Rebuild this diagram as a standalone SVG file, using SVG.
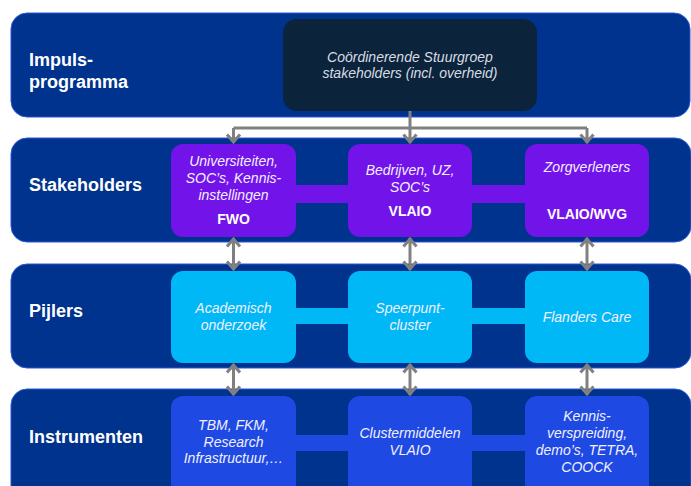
<svg xmlns="http://www.w3.org/2000/svg" width="691" height="486" viewBox="0 0 691 486">
  <defs>
    <style>
      .band { fill: #00338D; stroke: #2a57d6; stroke-width: 1; }
      .lbl { font-family: "Liberation Sans", Arial, sans-serif; font-weight: bold; font-size: 18px; fill: #ffffff; }
      .it { font-family: "Liberation Sans", Arial, sans-serif; font-style: italic; font-size: 14px; fill: #f2f0ff; text-anchor: middle; }
      .bd { font-family: "Liberation Sans", Arial, sans-serif; font-weight: bold; font-size: 14px; fill: #ffffff; text-anchor: middle; }
      .dk { fill: #0C233C; }
      .pu { fill: #7213EA; }
      .cy { fill: #00B8F5; }
      .co { fill: #1E49E2; }
      .conn { stroke: #808080; stroke-width: 3; fill: none; }
    </style>
    <marker id="ah" viewBox="0 0 14 16" refX="10.5" refY="8" markerWidth="14" markerHeight="16" markerUnits="userSpaceOnUse" orient="auto-start-reverse">
      <path d="M2,1.5 L9.5,8 L2,14.5" fill="none" stroke="#808080" stroke-width="3"/>
    </marker>
  </defs>

  <rect width="691" height="486" fill="#ffffff"/>

  <!-- bands -->
  <g id="band-impuls">
    <rect class="band" x="11" y="13" width="679" height="104" rx="16"/>
    <text class="lbl" x="29" y="66">Impuls-</text>
    <text class="lbl" x="29" y="88">programma</text>
  </g>
  <g id="band-stakeholders">
    <rect class="band" x="11" y="138" width="680" height="104" rx="16"/>
    <text class="lbl" x="29" y="191">Stakeholders</text>
  </g>
  <g id="band-pijlers">
    <rect class="band" x="11" y="264" width="680" height="104" rx="16"/>
    <text class="lbl" x="29" y="317">Pijlers</text>
  </g>
  <g id="band-instrumenten">
    <rect class="band" x="11" y="389" width="680" height="120" rx="16"/>
    <text class="lbl" x="29" y="443">Instrumenten</text>
  </g>

  <!-- horizontal bars connecting row boxes -->
  <g id="row-bars">
    <rect class="pu" x="290" y="185" width="240" height="18"/>
    <rect class="cy" x="290" y="308" width="240" height="16"/>
    <rect class="co" x="290" y="435" width="240" height="16"/>
  </g>

  <g id="stuurgroep">
    <rect class="dk" x="283" y="19" width="254" height="92" rx="14"/>
    <text class="it" x="410" y="62" style="fill:#d8dde4">Coördinerende Stuurgroep</text>
    <text class="it" x="410" y="78" style="fill:#d8dde4">stakeholders (incl. overheid)</text>
  </g>

  <g id="universiteiten">
    <rect class="pu" x="171" y="144" width="125" height="93" rx="12"/>
    <text class="it" x="233.5" y="166">Universiteiten,</text>
    <text class="it" x="233.5" y="183">SOC’s, Kennis-</text>
    <text class="it" x="233.5" y="200">instellingen</text>
    <text class="bd" x="233.5" y="224">FWO</text>
  </g>
  <g id="bedrijven">
    <rect class="pu" x="348" y="144" width="124" height="93" rx="12"/>
    <text class="it" x="410" y="175">Bedrijven, UZ,</text>
    <text class="it" x="410" y="192">SOC’s</text>
    <text class="bd" x="410" y="216">VLAIO</text>
  </g>
  <g id="zorgverleners">
    <rect class="pu" x="525" y="144" width="124" height="93" rx="12"/>
    <text class="it" x="587" y="172">Zorgverleners</text>
    <text class="bd" x="587" y="219">VLAIO/WVG</text>
  </g>

  <g id="academisch">
    <rect class="cy" x="171" y="271" width="125" height="92" rx="12"/>
    <text class="it" x="233.5" y="313">Academisch</text>
    <text class="it" x="233.5" y="330">onderzoek</text>
  </g>
  <g id="speerpunt">
    <rect class="cy" x="348" y="271" width="124" height="92" rx="12"/>
    <text class="it" x="410" y="313">Speerpunt-</text>
    <text class="it" x="410" y="330">cluster</text>
  </g>
  <g id="flanders">
    <rect class="cy" x="525" y="271" width="124" height="92" rx="12"/>
    <text class="it" x="587" y="322">Flanders Care</text>
  </g>

  <g id="tbm">
    <rect class="co" x="171" y="396" width="125" height="110" rx="12"/>
    <text class="it" x="233.5" y="430">TBM, FKM,</text>
    <text class="it" x="233.5" y="447">Research</text>
    <text class="it" x="233.5" y="463">Infrastructuur,…</text>
  </g>
  <g id="clustermiddelen">
    <rect class="co" x="348" y="396" width="124" height="110" rx="12"/>
    <text class="it" x="410" y="438">Clustermiddelen</text>
    <text class="it" x="410" y="455">VLAIO</text>
  </g>
  <g id="kennis">
    <rect class="co" x="525" y="396" width="124" height="110" rx="12"/>
    <text class="it" x="587" y="421">Kennis-</text>
    <text class="it" x="587" y="438">verspreiding,</text>
    <text class="it" x="587" y="455">demo’s, TETRA,</text>
    <text class="it" x="587" y="472">COOCK</text>
  </g>

  <!-- connectors -->
  <g id="connectors">
    <path class="conn" d="M410,111 V128 M233.5,128 H587"/>
    <path class="conn" d="M233.5,128 V143" marker-end="url(#ah)"/>
    <path class="conn" d="M410,128 V143" marker-end="url(#ah)"/>
    <path class="conn" d="M587,128 V143" marker-end="url(#ah)"/>
    <path class="conn" d="M233.5,238 V270" marker-start="url(#ah)" marker-end="url(#ah)"/>
    <path class="conn" d="M410,238 V270" marker-start="url(#ah)" marker-end="url(#ah)"/>
    <path class="conn" d="M587,238 V270" marker-start="url(#ah)" marker-end="url(#ah)"/>
    <path class="conn" d="M233.5,364 V395" marker-start="url(#ah)" marker-end="url(#ah)"/>
    <path class="conn" d="M410,364 V395" marker-start="url(#ah)" marker-end="url(#ah)"/>
    <path class="conn" d="M587,364 V395" marker-start="url(#ah)" marker-end="url(#ah)"/>
  </g>
</svg>
